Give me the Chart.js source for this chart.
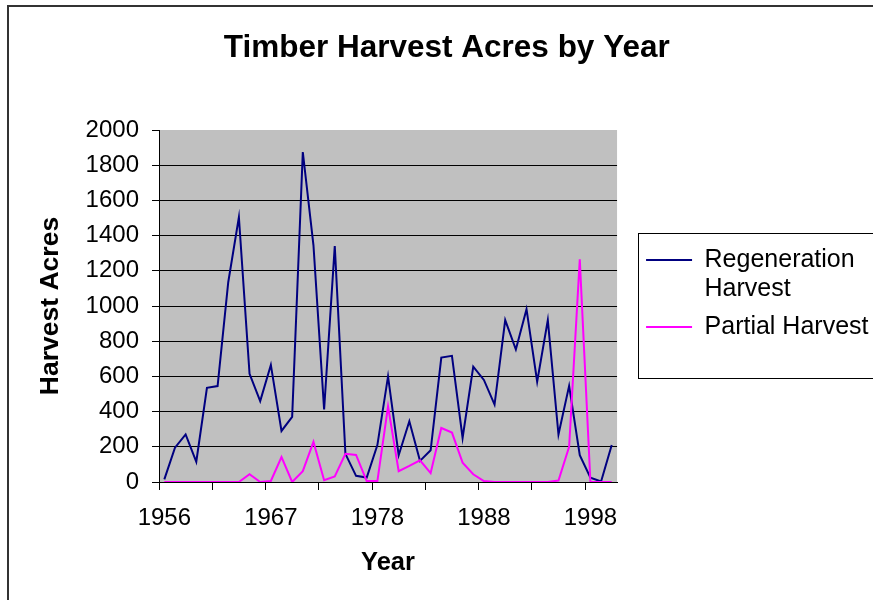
<!DOCTYPE html>
<html><head><meta charset="utf-8">
<script src="https://cdn.jsdelivr.net/npm/chart.js@4/dist/chart.umd.min.js"></script>
<style>
html,body{margin:0;padding:0;background:#fff;overflow:hidden;width:873px;height:600px;}
#frame{position:absolute;left:7px;top:5px;width:1000px;height:700px;border-top:2px solid #333;border-left:2px solid #333;}
#c{position:absolute;left:9px;top:8px;}
</style></head><body>
<div id="frame"></div>
<canvas id="c" width="900" height="620"></canvas>
<script>
// Categories (43 harvest years; two years absent in the source table)
const years = [1956,1957,1958,1959,1960,1961,1962,1963,1964,1965,
               1967,1968,1969,1970,1971,1972,1973,1974,1975,1976,
               1978,1979,1980,1981,1982,1983,1984,1985,1986,1987,
               1988,1989,1990,1991,1992,1993,1994,1995,1996,1997,
               1998,1999,2000];
const regenerationHarvest = [15,195,270,115,535,545,1135,1505,615,460,
                             665,290,370,1875,1345,412,1340,160,35,25,
                             210,600,152,345,120,180,707,717,250,655,
                             580,440,920,753,982,570,920,270,546,152,
                             25,3,210];
const partialHarvest = [0,0,0,0,0,0,0,0,44,0,
                        6,142,0,62,228,10,32,160,154,5,
                        5,430,61,91,123,51,307,281,110,44,
                        5,0,0,0,0,0,0,8,200,1265,
                        0,0,0];
const xTickLabels = ['1956','1967','1978','1988','1998'];
const yMin = 0, yMax = 2000, yStep = 200;

const FONT = "'Liberation Sans', Arial, sans-serif";
Chart.defaults.color = '#000';
Chart.defaults.font.family = FONT;

const decor = {
  id: 'decor',
  beforeDraw(chart) {
    const {ctx, chartArea: a, legend} = chart;
    ctx.save();
    ctx.fillStyle = '#C0C0C0';
    ctx.fillRect(a.left, a.top, a.right - a.left, a.bottom - a.top);
    if (legend && legend.columnSizes && legend.columnSizes.length) {
      const pad = legend.options.labels.padding;
      const y0 = (legend.top + pad + legend.bottom - legend.columnSizes[0].height) / 2;
      const x = Math.round(legend.left) + 1.5;
      const top = Math.round(y0 - 14.5) + 0.5;
      const bottom = Math.round(y0 + 130.5) + 0.5;
      ctx.fillStyle = '#fff';
      ctx.fillRect(x, top, 400, bottom - top);
      ctx.strokeStyle = '#000';
      ctx.lineWidth = 1;
      ctx.strokeRect(x, top, 400, bottom - top);
    }
    ctx.restore();
  }
};

new Chart(document.getElementById('c'), {
  type: 'line',
  data: {
    labels: years.map(String),
    datasets: [
      { label: 'Regeneration Harvest', data: regenerationHarvest, borderColor: '#000080',
        backgroundColor: '#000080', borderWidth: 2, pointRadius: 0, fill: false, tension: 0,
        yAxisID: 'y', order: 1 },
      { label: 'Partial Harvest', data: partialHarvest, borderColor: '#FF00FF',
        backgroundColor: '#FF00FF', borderWidth: 2, pointRadius: 0, fill: false, tension: 0,
        yAxisID: 'y', order: 0 }
    ]
  },
  options: {
    responsive: false,
    animation: false,
    events: [],
    layout: { padding: { left: 6, right: 30.5, top: 0, bottom: 49 } },
    plugins: {
      title: {
        display: true, text: 'Timber Harvest Acres by Year', color: '#000',
        font: { family: FONT, size: 31.5, weight: 'bold', lineHeight: 1.2 },
        padding: { top: 21, bottom: 63.2 }
      },
      legend: {
        display: true, position: 'right', maxWidth: 300,
        labels: {
          color: '#000',
          font: { family: FONT, size: 25, lineHeight: 1.16 },
          padding: 9,
          usePointStyle: true, pointStyle: 'line', pointStyleWidth: 46,
          sort: (a, b) => a.datasetIndex - b.datasetIndex,
          generateLabels(chart) {
            const items = Chart.defaults.plugins.legend.labels.generateLabels(chart);
            items.forEach(it => {
              if (typeof it.text === 'string' && it.text.length > 16) {
                const p = it.text.split(' ');
                it.text = [p[0], p.slice(1).join(' ')];
              }
            });
            return items;
          }
        }
      },
      tooltip: { enabled: false }
    },
    scales: {
      x: {
        type: 'category', offset: true,
        grid: { display: true, offset: true, drawOnChartArea: false, drawTicks: true, tickLength: 8,
                tickColor: c => (c.index % 5 === 0 ? '#000' : 'rgba(0,0,0,0)'), lineWidth: 1 },
        border: { display: true, color: '#000', width: 1 },
        ticks: { autoSkip: false, maxRotation: 0, minRotation: 0, padding: 14,
                 font: { family: FONT, size: 24 }, color: '#000',
                 callback: (v, i) => { const s = String(years[i]); return xTickLabels.includes(s) ? s : ''; } },
        title: { display: true, text: 'Year', color: '#000',
                 font: { family: FONT, size: 25.5, weight: 'bold', lineHeight: 1.2 },
                 padding: { top: 0, bottom: 1 } },
        afterFit: s => { s.height = 97; }
      },
      y: {
        type: 'linear', position: 'left', min: yMin, max: yMax,
        grid: { display: true, drawOnChartArea: true, drawTicks: true, tickLength: 7, lineWidth: 1,
                color: c => (c.tick && c.tick.value === yMax ? 'rgba(0,0,0,0)' : '#000'),
                tickColor: '#000' },
        border: { display: true, color: '#000', width: 1 },
        ticks: { stepSize: yStep, padding: 13, font: { family: FONT, size: 24 }, color: '#000',
                 callback: v => String(v) },
        title: { display: true, text: 'Harvest Acres', color: '#000',
                 font: { family: FONT, size: 26.5, weight: 'bold', lineHeight: 1.2 },
                 padding: { top: 20, bottom: 0 } },
        afterFit: s => { s.width = 144; }
      },
      yR: {
        type: 'linear', position: 'right', display: true,
        grid: { display: false }, border: { display: false }, ticks: { display: false },
        afterFit: s => { s.width = 20; }
      }
    }
  },
  plugins: [decor]
});
</script>
</body></html>
